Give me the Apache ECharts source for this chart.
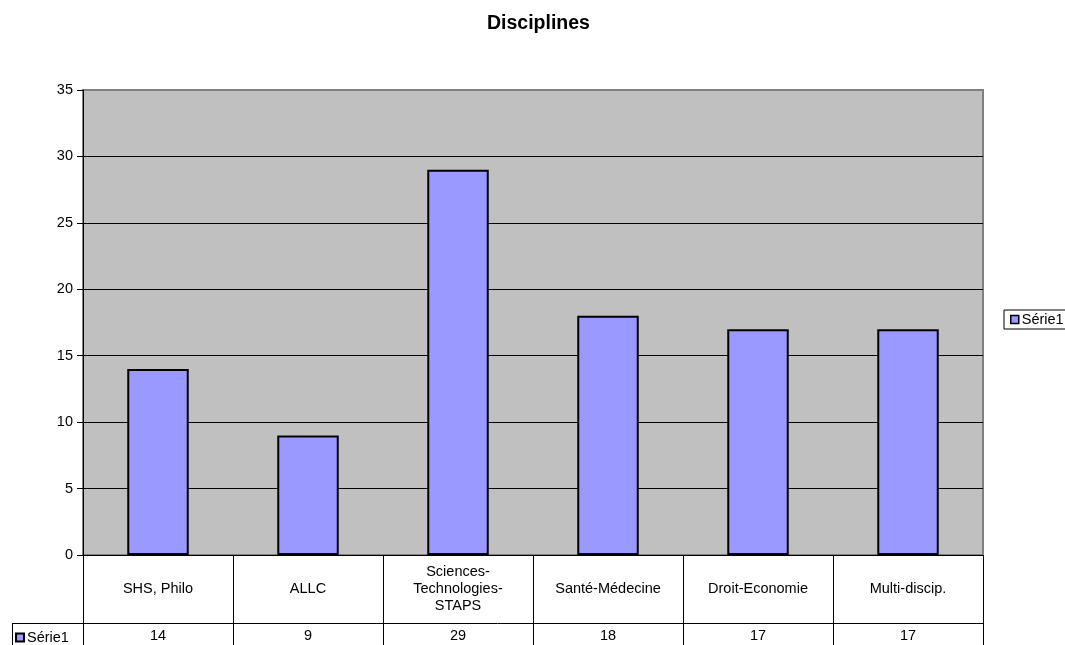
<!DOCTYPE html>
<html>
<head>
<meta charset="utf-8">
<script src="https://cdn.jsdelivr.net/npm/echarts@6/dist/echarts.min.js"></script>
<style>
html,body{margin:0;padding:0;background:#fff;}
#chart{width:1065px;height:645px;}
</style>
</head>
<body>
<div id="chart"></div>
<script>
const title = 'Disciplines';
const seriesName = 'Série1';
const categories = ['SHS, Philo', 'ALLC', 'Sciences-\nTechnologies-\nSTAPS', 'Santé-Médecine', 'Droit-Economie', 'Multi-discip.'];
const values = [14, 9, 29, 18, 17, 17];
const yTicks = { min: 0, max: 35, interval: 5 };

const FONT = 'Liberation Sans, Arial, sans-serif';
const FS = 14.5;
const chart = echarts.init(document.getElementById('chart'));
chart.setOption({
  animation: false,
  textStyle: { fontFamily: FONT, color: '#000' },
  title: {
    text: title, left: 482, top: 9,
    textStyle: { fontFamily: FONT, fontWeight: 'bold', fontSize: 19.5, color: '#000' }
  },
  grid: {
    left: 83, right: 82, top: 90, bottom: 90,
    show: true, backgroundColor: '#C0C0C0', borderColor: '#808080', borderWidth: 2
  },
  legend: [
    {
      data: [seriesName], left: 1004, top: 310, orient: 'vertical',
      borderColor: '#000', borderWidth: 1, padding: [2, 6, 2, 6],
      itemWidth: 8, itemHeight: 8, itemGap: 4,
      icon: 'rect',
      itemStyle: { borderColor: '#000', borderWidth: 1.5 },
      textStyle: { fontFamily: FONT, fontSize: FS, color: '#000', padding: [0, 0, 0, -2] }
    },
    {
      data: [seriesName], left: 13, top: 628, orient: 'vertical',
      padding: [2, 2, 2, 2],
      itemWidth: 8, itemHeight: 8,
      icon: 'rect',
      itemStyle: { borderColor: '#000', borderWidth: 2 },
      textStyle: { fontFamily: FONT, fontSize: FS, color: '#000', padding: [0, 0, 0, -2] }
    }
  ],
  xAxis: [
    {
      type: 'category', data: categories, position: 'bottom',
      axisLine: { show: true, lineStyle: { color: '#000', width: 1 } },
      axisTick: { show: true, length: 100, lineStyle: { color: '#000', width: 1 } },
      axisLabel: {
        interval: 0, margin: 34, verticalAlign: 'middle', lineHeight: 17,
        fontFamily: FONT, fontSize: FS, color: '#000'
      }
    },
    {
      type: 'category', data: values.map(String), position: 'bottom', offset: 68,
      axisLine: { show: false }, axisTick: { show: false },
      axisLabel: {
        interval: 0, margin: 13, verticalAlign: 'middle',
        fontFamily: FONT, fontSize: FS, color: '#000'
      }
    }
  ],
  yAxis: {
    type: 'value', min: yTicks.min, max: yTicks.max, interval: yTicks.interval,
    axisLine: { show: true, lineStyle: { color: '#000', width: 1 } },
    axisTick: { show: true, length: 6, lineStyle: { color: '#000' } },
    axisLabel: { fontFamily: FONT, fontSize: FS, color: '#000', margin: 10 },
    splitLine: { show: true, showMaxLine: false, lineStyle: { color: '#000', width: 1 } }
  },
  series: [{
    name: seriesName, type: 'bar', data: values, xAxisIndex: 0,
    barWidth: '41%',
    itemStyle: { color: '#9999FF', borderColor: '#000', borderWidth: 2 }
  }],
  graphic: [
    { type: 'line', shape: { x1: 12, y1: 623.5, x2: 983, y2: 623.5 }, style: { stroke: '#000', lineWidth: 1 } },
    { type: 'line', shape: { x1: 12.5, y1: 623, x2: 12.5, y2: 645 }, style: { stroke: '#000', lineWidth: 1 } }
  ]
});
</script>
</body>
</html>
